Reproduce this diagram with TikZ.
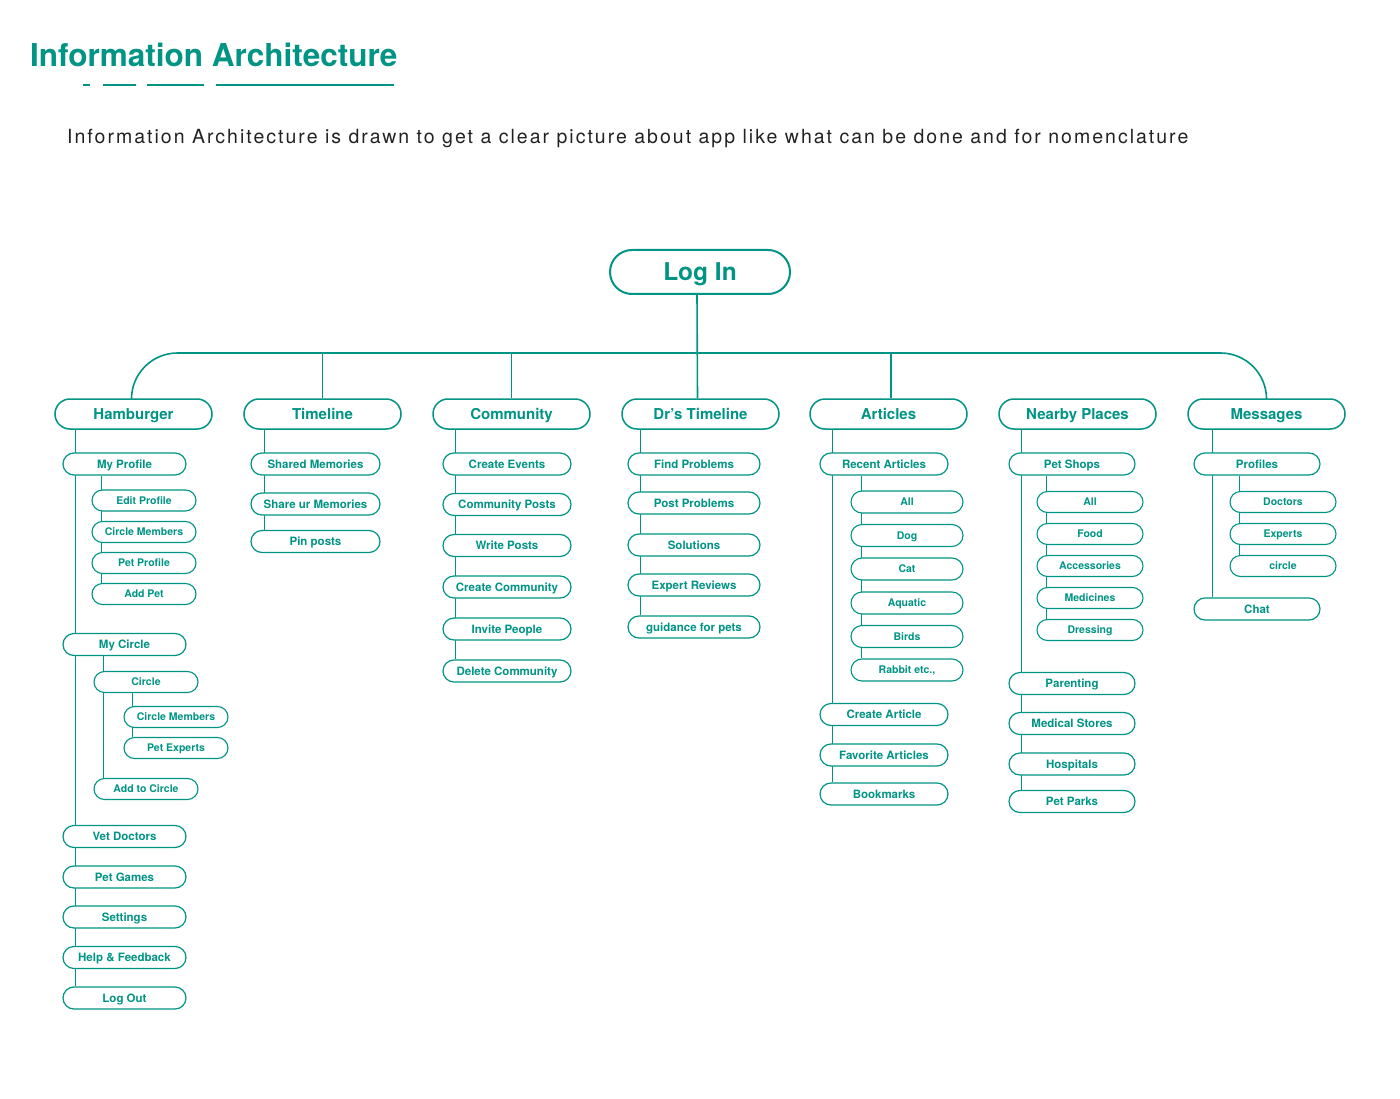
\documentclass[tikz,border=0pt]{standalone}
\usepackage{fontspec}
\setmainfont{TeX Gyre Heros}
\usetikzlibrary{calc}
\definecolor{teal1}{RGB}{0,148,133}
\definecolor{txt}{RGB}{34,34,34}
\pgfdeclarelayer{bg}
\pgfdeclarelayer{conn}
\pgfsetlayers{bg,conn,main}
\begin{document}
\begin{tikzpicture}[x=1pt,y=-1pt,
  box/.style={draw=teal1,fill=white,text=teal1,inner sep=0pt,align=center,text depth=0pt},
  lvlzero/.style={box,line width=2pt,minimum width=180pt,minimum height=44pt,rounded corners=22pt,
     font=\fontsize{24.5}{28}\selectfont\bfseries,text height=17.6pt},
  lvlone/.style={box,line width=1.5pt,minimum width=157pt,minimum height=30pt,rounded corners=15pt,
     font=\fontsize{15}{18}\selectfont\bfseries,text height=10.8pt},
  lvltwo/.style={box,line width=1.2pt,minimum width=123pt,minimum height=22pt,rounded corners=11pt,
     font=\fontsize{11.5}{14}\selectfont\bfseries,text height=8.3pt},
  lvlthree/.style={box,line width=1.1pt,minimum width=104pt,minimum height=21pt,rounded corners=10.5pt,
     font=\fontsize{10.5}{12}\selectfont\bfseries,text height=7.6pt},
  artsub/.style={lvlthree,minimum width=112pt,minimum height=22pt,rounded corners=11pt},
  conn/.style={draw=teal1,line width=1.6pt},
]
\useasboundingbox (0,0) rectangle (1400,1099);
\begin{pgfonlayer}{bg}
\fill[white] (0,0) rectangle (1400,1099);
\end{pgfonlayer}

% title
\node[anchor=base west,inner sep=0pt,text=teal1,font=\fontsize{31.5}{36}\selectfont\bfseries] (title) at (30,67) {Information Architecture};
\foreach \a/\b in {83/90,103/136,147/204,216/394}
  \draw[teal1,line width=2pt] (\a,85) -- (\b,85);
\node[anchor=base west,inner sep=0pt,text=txt,font=\fontsize{19.5}{24}\selectfont\addfontfeature{LetterSpace=10.3}] (sub) at (67,143.5)
  {Information Architecture is drawn to get a clear picture about app like what can be done and for nomenclature};

% top
\node[lvlzero] (login) at (700,272) {Log In};
\coordinate (bus) at (697,353);

\node[lvlone] (ham) at (133.5,414) {Hamburger};
\node[lvlone] (tl)  at (322.5,414) {Timeline};
\node[lvlone] (com) at (511.5,414) {Community};
\node[lvlone] (drt) at (700.5,414) {Dr’s Timeline};
\node[lvlone] (art) at (888.5,414) {Articles};
\node[lvlone] (nbp) at (1077.5,414) {Nearby Places};
\node[lvlone] (msg) at (1266.5,414) {Messages};

% Hamburger column
\node[lvltwo] (myprof) at (124.5,464) {My Profile};
\node[lvlthree] (editp) at (144,500.5) {Edit Profile};
\node[lvlthree] (cmem1) at (144,532) {Circle Members};
\node[lvlthree] (petp) at (144,563) {Pet Profile};
\node[lvlthree] (addpet) at (144,594) {Add Pet};
\node[lvltwo] (mycirc) at (124.5,644.5) {My Circle};
\node[lvlthree] (circ) at (146,682) {Circle};
\node[lvlthree] (cmem2) at (176,717) {Circle Members};
\node[lvlthree] (pexp) at (176,748) {Pet Experts};
\node[lvlthree] (addc) at (146,789) {Add to Circle};
\node[lvltwo] (vet) at (124.5,836.5) {Vet Doctors};
\node[lvltwo] (pgames) at (124.5,877) {Pet Games};
\node[lvltwo] (sett) at (124.5,917) {Settings};
\node[lvltwo] (help) at (124.5,957.5) {Help \& Feedback};
\node[lvltwo] (logout) at (124.5,998) {Log Out};

% Timeline column
\node[lvltwo,minimum width=129pt] (shm) at (315.5,464) {Shared Memories};
\node[lvltwo,minimum width=129pt] (sum) at (315.5,504) {Share ur Memories};
\node[lvltwo,minimum width=129pt] (pin) at (315.5,541.5) {Pin posts};

% Community column
\node[lvltwo,minimum width=128pt] (cev) at (507,464) {Create Events};
\node[lvltwo,minimum width=128pt] (cpo) at (507,504.5) {Community Posts};
\node[lvltwo,minimum width=128pt] (wpo) at (507,545.5) {Write Posts};
\node[lvltwo,minimum width=128pt] (cco) at (507,587) {Create Community};
\node[lvltwo,minimum width=128pt] (inv) at (507,629) {Invite People};
\node[lvltwo,minimum width=128pt] (dco) at (507,671) {Delete Community};

% Dr's Timeline column
\node[lvltwo,minimum width=132pt] (fpr) at (694,464) {Find Problems};
\node[lvltwo,minimum width=132pt] (ppr) at (694,503) {Post Problems};
\node[lvltwo,minimum width=132pt] (sol) at (694,545) {Solutions};
\node[lvltwo,minimum width=132pt] (erv) at (694,585) {Expert Reviews};
\node[lvltwo,minimum width=132pt] (gfp) at (694,627) {guidance for pets};

% Articles column
\node[lvltwo,minimum width=128pt] (rart) at (884,464) {Recent Articles};
\node[artsub] (aall) at (907,502) {All};
\node[artsub] (adog) at (907,535.5) {Dog};
\node[artsub] (acat) at (907,569) {Cat};
\node[artsub] (aaqu) at (907,603) {Aquatic};
\node[artsub] (abir) at (907,636.5) {Birds};
\node[artsub] (arab) at (907,670) {Rabbit etc.,};
\node[lvltwo,minimum width=128pt] (cart) at (884,714.5) {Create Article};
\node[lvltwo,minimum width=128pt] (fart) at (884,755) {Favorite Articles};
\node[lvltwo,minimum width=128pt] (bkm) at (884,794) {Bookmarks};

% Nearby Places column
\node[lvltwo,minimum width=126pt] (pshop) at (1072,464) {Pet Shops};
\node[lvlthree,minimum width=106pt] (sall) at (1090,502) {All};
\node[lvlthree,minimum width=106pt] (sfood) at (1090,534) {Food};
\node[lvlthree,minimum width=106pt] (sacc) at (1090,566) {Accessories};
\node[lvlthree,minimum width=106pt] (smed) at (1090,598) {Medicines};
\node[lvlthree,minimum width=106pt] (sdre) at (1090,630) {Dressing};
\node[lvltwo,minimum width=126pt] (par) at (1072,683.5) {Parenting};
\node[lvltwo,minimum width=126pt] (mst) at (1072,723.5) {Medical Stores};
\node[lvltwo,minimum width=126pt] (hos) at (1072,764) {Hospitals};
\node[lvltwo,minimum width=126pt] (ppk) at (1072,801.5) {Pet Parks};

% Messages column
\node[lvltwo,minimum width=126pt] (prof) at (1257,464) {Profiles};
\node[lvlthree,minimum width=106pt] (mdoc) at (1283,502) {Doctors};
\node[lvlthree,minimum width=106pt] (mexp) at (1283,534) {Experts};
\node[lvlthree,minimum width=106pt] (mcir) at (1283,566) {circle};
\node[lvltwo,minimum width=126pt] (chat) at (1257,609) {Chat};

% ---------- connectors ----------
\begin{pgfonlayer}{conn}
\draw[conn] ($(login.south)+(-3,0)$) -- ($(drt.north)+(-3,0)$);
\draw[conn,rounded corners=46pt] ($(ham.north)+(-2,0)$) |- (bus) -| (msg.north);
\draw[conn] (tl.north) -- (tl.north |- bus);
\draw[conn] (com.north) -- (com.north |- bus);
\draw[conn] ($(art.north)+(2.5,0)$) -- ($(art.north |- bus)+(2.5,0)$);

% trunks
\draw[conn] ($(myprof.west |- ham.south)+(13,0)$) -- ($(logout.west |- logout.north)+(13,0)$);
\draw[conn] ($(shm.west |- tl.south)+(14,0)$) -- ($(pin.west |- pin.north)+(14,0)$);
\draw[conn] ($(cev.west |- com.south)+(13,0)$) -- ($(dco.west |- dco.north)+(13,0)$);
\draw[conn] ($(fpr.west |- drt.south)+(13,0)$) -- ($(gfp.west |- gfp.north)+(13,0)$);
\draw[conn] ($(rart.west |- art.south)+(13,0)$) -- ($(bkm.west |- bkm.north)+(13,0)$);
\draw[conn] ($(pshop.west |- nbp.south)+(13,0)$) -- ($(ppk.west |- ppk.north)+(13,0)$);
\draw[conn] ($(prof.west |- msg.south)+(19,0)$) -- ($(chat.west |- chat.north)+(19,0)$);

% sub-branches
\draw[conn] ($(editp.west |- myprof.south)+(10,0)$) -- ($(addpet.west |- addpet.north)+(10,0)$);
\draw[conn] ($(circ.west |- mycirc.south)+(10,0)$) -- ($(addc.west |- addc.north)+(10,0)$);
\draw[conn] ($(cmem2.west |- circ.south)+(9,0)$) -- ($(pexp.west |- pexp.north)+(9,0)$);
\draw[conn] ($(aall.west |- rart.south)+(11,0)$) -- ($(arab.west |- arab.north)+(11,0)$);
\draw[conn] ($(sall.west |- pshop.south)+(10,0)$) -- ($(sdre.west |- sdre.north)+(10,0)$);
\draw[conn] ($(mdoc.west |- prof.south)+(10,0)$) -- ($(mcir.west |- mcir.north)+(10,0)$);
\end{pgfonlayer}
\end{tikzpicture}
\end{document}
